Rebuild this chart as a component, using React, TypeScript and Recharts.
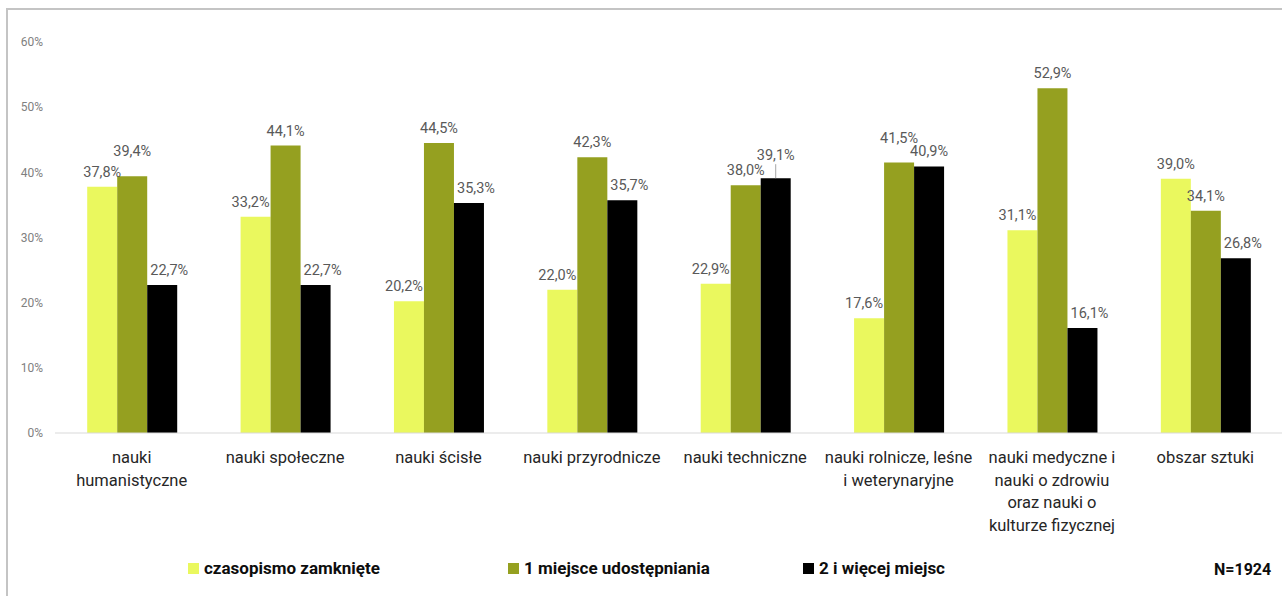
import React from 'react';
import { BarChart, Bar, XAxis, YAxis, LabelList } from 'recharts';

const categories = [
  'nauki\nhumanistyczne',
  'nauki społeczne',
  'nauki ścisłe',
  'nauki przyrodnicze',
  'nauki techniczne',
  'nauki rolnicze, leśne\ni weterynaryjne',
  'nauki medyczne i\nnauki o zdrowiu\noraz nauki o\nkulturze fizycznej',
  'obszar sztuki'
];

const closedJournal = [37.8, 33.2, 20.2, 22.0, 22.9, 17.6, 31.1, 39.0];
const onePlace = [39.4, 44.1, 44.5, 42.3, 38.0, 41.5, 52.9, 34.1];
const twoOrMore = [22.7, 22.7, 35.3, 35.7, 39.1, 40.9, 16.1, 26.8];

const yTicks = [0, 10, 20, 30, 40, 50, 60];

const series = [
  { key: 'closed', name: 'czasopismo zamknięte', color: '#EAF85E', values: closedJournal },
  { key: 'one', name: '1 miejsce udostępniania', color: '#95A020', values: onePlace },
  { key: 'more', name: '2 i więcej miejsc', color: '#000000', values: twoOrMore }
];

const data = categories.map((name, i) => ({
  name,
  closed: closedJournal[i],
  one: onePlace[i],
  more: twoOrMore[i]
}));

const FONT = 'Roboto, "Noto Sans", sans-serif';

const fmt = (v: number) => `${v.toFixed(1).replace('.', ',')}%`;

// Excel nudged a few labels upward to avoid overlaps
const lifted: Record<string, number> = { 'one-0': 10, 'more-4': 8, 'one-5': 10 };

const makeLabel = (seriesKey: string) => (props: any) => {
  const { x, y, width, value, index } = props;
  const lift = lifted[`${seriesKey}-${index}`] || 0;
  // labels sitting next to a taller green bar get pushed sideways
  let dx = 0;
  if (seriesKey === 'closed' && onePlace[index] > value + 2) dx = -5;
  if (seriesKey === 'more' && onePlace[index] > value + 2) dx = 7;
  const cx = x + width / 2;
  const ty = y - 10 - lift;
  return (
    <g>
      {seriesKey === 'more' && lift > 0 && (
        <line x1={cx} y1={ty + 4} x2={cx} y2={y} stroke="#a6a6a6" strokeWidth={1} />
      )}
      <text x={cx + dx} y={ty} textAnchor="middle" fill="#595959" fontSize={14.5} fontFamily={FONT}>
        {fmt(value)}
      </text>
    </g>
  );
};

const CategoryTick = (props: any) => {
  const { x, y, payload } = props;
  const lines = String(payload.value).split('\n');
  return (
    <g>
      {lines.map((ln, i) => (
        <text key={i} x={x} y={y + 22 + i * 22.5} textAnchor="middle" fill="#262626" fontSize={16.5} fontFamily={FONT}>
          {ln}
        </text>
      ))}
    </g>
  );
};

export default function App() {
  return (
    <div style={{ position: 'absolute', left: 0, top: 0, width: 1282, height: 596, overflow: 'hidden', background: '#fff', fontFamily: FONT }}>
      <div style={{ position: 'absolute', left: 6, top: 8, width: 1320, height: 620, border: '2px solid #c4c4c4', boxSizing: 'border-box' }} />
      <BarChart
        width={1282}
        height={596}
        data={data}
        margin={{ top: 42, right: 0, bottom: 0, left: 0 }}
        barCategoryGap="21%"
        barGap={0}
        style={{ position: 'absolute', left: 0, top: 0 }}
      >
        <YAxis
          domain={[0, 60]}
          ticks={yTicks}
          width={55}
          axisLine={false}
          tickLine={false}
          tickMargin={6}
          tickFormatter={(v: number) => `${v}%`}
          tick={{ fill: '#808080', fontSize: 12, fontFamily: FONT }}
        />
        <XAxis
          dataKey="name"
          height={163}
          interval={0}
          axisLine={{ stroke: '#d9d9d9' }}
          tickLine={false}
          tick={<CategoryTick />}
        />
        {series.map((s) => (
          <Bar key={s.key} dataKey={s.key} name={s.name} fill={s.color} isAnimationActive={false}>
            <LabelList dataKey={s.key} content={makeLabel(s.key)} />
          </Bar>
        ))}
      </BarChart>
      <div style={{ position: 'absolute', left: 0, top: 557, width: 1282, height: 24 }}>
        {series.map((s, i) => (
          <div
            key={s.key}
            style={{ position: 'absolute', left: [188, 508, 803][i], top: 0, display: 'flex', alignItems: 'center', height: 22 }}
          >
            <span style={{ display: 'inline-block', width: 11, height: 11, background: s.color, marginRight: 5 }} />
            <span style={{ fontSize: 17, fontWeight: 700, color: '#0d0d0d' }}>{s.name}</span>
          </div>
        ))}
        <div style={{ position: 'absolute', left: 1214, top: 0, height: 24, display: 'flex', alignItems: 'center', fontSize: 16, fontWeight: 700, color: '#0d0d0d' }}>
          N=1924
        </div>
      </div>
    </div>
  );
}
